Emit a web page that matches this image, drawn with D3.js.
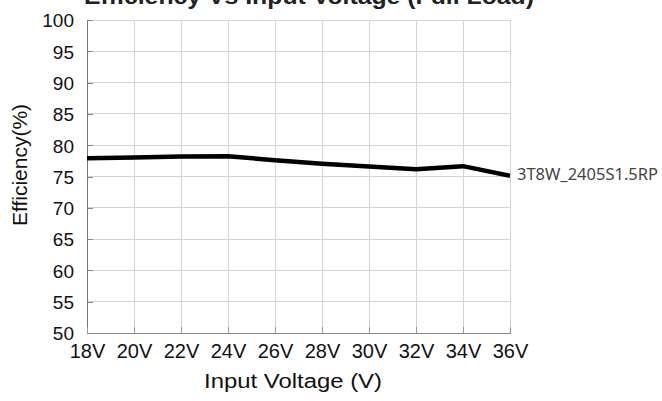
<!DOCTYPE html>
<html>
<head>
<meta charset="utf-8">
<script src="https://cdn.jsdelivr.net/npm/d3@7/dist/d3.min.js"></script>
<style>
  html, body { margin: 0; padding: 0; background: #fff; }
  svg { display: block; }
</style>
</head>
<body>
<svg id="chart" width="662" height="401"></svg>
<script>
// ---- data ----
const voltages = [18, 20, 22, 24, 26, 28, 30, 32, 34, 36];
const efficiency = [77.9, 78.05, 78.2, 78.25, 77.6, 77.05, 76.6, 76.15, 76.65, 75.1];
const xTickLabels = ["18V", "20V", "22V", "24V", "26V", "28V", "30V", "32V", "34V", "36V"];
const yTicks = [50, 55, 60, 65, 70, 75, 80, 85, 90, 95, 100];
const seriesName = "3T8W_2405S1.5RP";
const chartTitle = "Efficiency Vs Input Voltage (Full Load)";
const xTitle = "Input Voltage (V)";
const yTitle = "Efficiency(%)";

// ---- layout ----
const svg = d3.select("#chart");
const L = 87, R = 510, T = 20, B = 333;
const mainFont = "'Liberation Sans', Arial, sans-serif";

const x = d3.scaleLinear().domain([18, 36]).range([L, R]);
const y = d3.scaleLinear().domain([50, 100]).range([B, T]);

// grid
const grid = svg.append("g");
grid.selectAll("line.v").data(voltages).join("line")
  .attr("x1", d => x(d)).attr("x2", d => x(d))
  .attr("y1", T).attr("y2", B)
  .attr("stroke", "#d4d4d4").attr("stroke-width", 1).attr("shape-rendering", "crispEdges");
grid.selectAll("line.h").data(yTicks).join("line")
  .attr("x1", L).attr("x2", R)
  .attr("y1", d => y(d)).attr("y2", d => y(d))
  .attr("stroke", "#d4d4d4").attr("stroke-width", 1).attr("shape-rendering", "crispEdges");

// axes
const yAxis = d3.axisLeft(y).tickValues(yTicks).tickSizeInner(-6).tickSizeOuter(0).tickPadding(13).tickFormat(d3.format("d"));
const gy = svg.append("g").attr("transform", `translate(${L},0)`).call(yAxis);
gy.select(".domain").attr("stroke", "#777").attr("shape-rendering", "crispEdges");
gy.selectAll(".tick line").attr("stroke", "#888").attr("shape-rendering", "crispEdges");
gy.selectAll(".tick text")
  .attr("font-family", mainFont).attr("font-size", 19).attr("fill", "#111")
  .attr("dy", "0.36em");

const xAxis = d3.axisBottom(x).tickValues(voltages).tickSizeInner(-6).tickSizeOuter(0).tickPadding(0)
  .tickFormat((d, i) => xTickLabels[i]);
const gx = svg.append("g").attr("transform", `translate(0,${B})`).call(xAxis);
gx.select(".domain").attr("stroke", "#888").attr("shape-rendering", "crispEdges");
gx.selectAll(".tick line").attr("stroke", "#999").attr("shape-rendering", "crispEdges");
gx.selectAll(".tick text")
  .attr("font-family", mainFont).attr("font-size", 20).attr("fill", "#111")
  .attr("y", 25).attr("dy", 0);

// line
const line = d3.line().x((d, i) => x(voltages[i])).y(d => y(d));
svg.append("path").datum(efficiency)
  .attr("d", line)
  .attr("fill", "none").attr("stroke", "#000").attr("stroke-width", 4.5)
  .attr("stroke-linejoin", "round");

// series label
svg.append("text")
  .attr("x", x(36) + 7).attr("y", y(efficiency[efficiency.length - 1]) + 4)
  .attr("font-family", "'Noto Sans', 'Open Sans', sans-serif")
  .attr("font-size", 17).attr("fill", "#444")
  .attr("textLength", 141).attr("lengthAdjust", "spacingAndGlyphs")
  .text(seriesName);

// title (partly cut off at top, as in the reference)
svg.append("text")
  .attr("x", 84).attr("y", 4)
  .attr("font-family", mainFont).attr("font-weight", "bold")
  .attr("font-size", 22).attr("fill", "#222")
  .attr("textLength", 450).attr("lengthAdjust", "spacingAndGlyphs")
  .text(chartTitle);

// x axis title
svg.append("text")
  .attr("x", 204).attr("y", 388)
  .attr("font-family", mainFont).attr("font-size", 20).attr("fill", "#111")
  .attr("textLength", 178).attr("lengthAdjust", "spacingAndGlyphs")
  .text(xTitle);

// y axis title
svg.append("text")
  .attr("transform", `translate(27,165) rotate(-90)`)
  .attr("text-anchor", "middle")
  .attr("font-family", mainFont).attr("font-size", 21).attr("fill", "#111")
  .text(yTitle);
</script>
</body>
</html>
